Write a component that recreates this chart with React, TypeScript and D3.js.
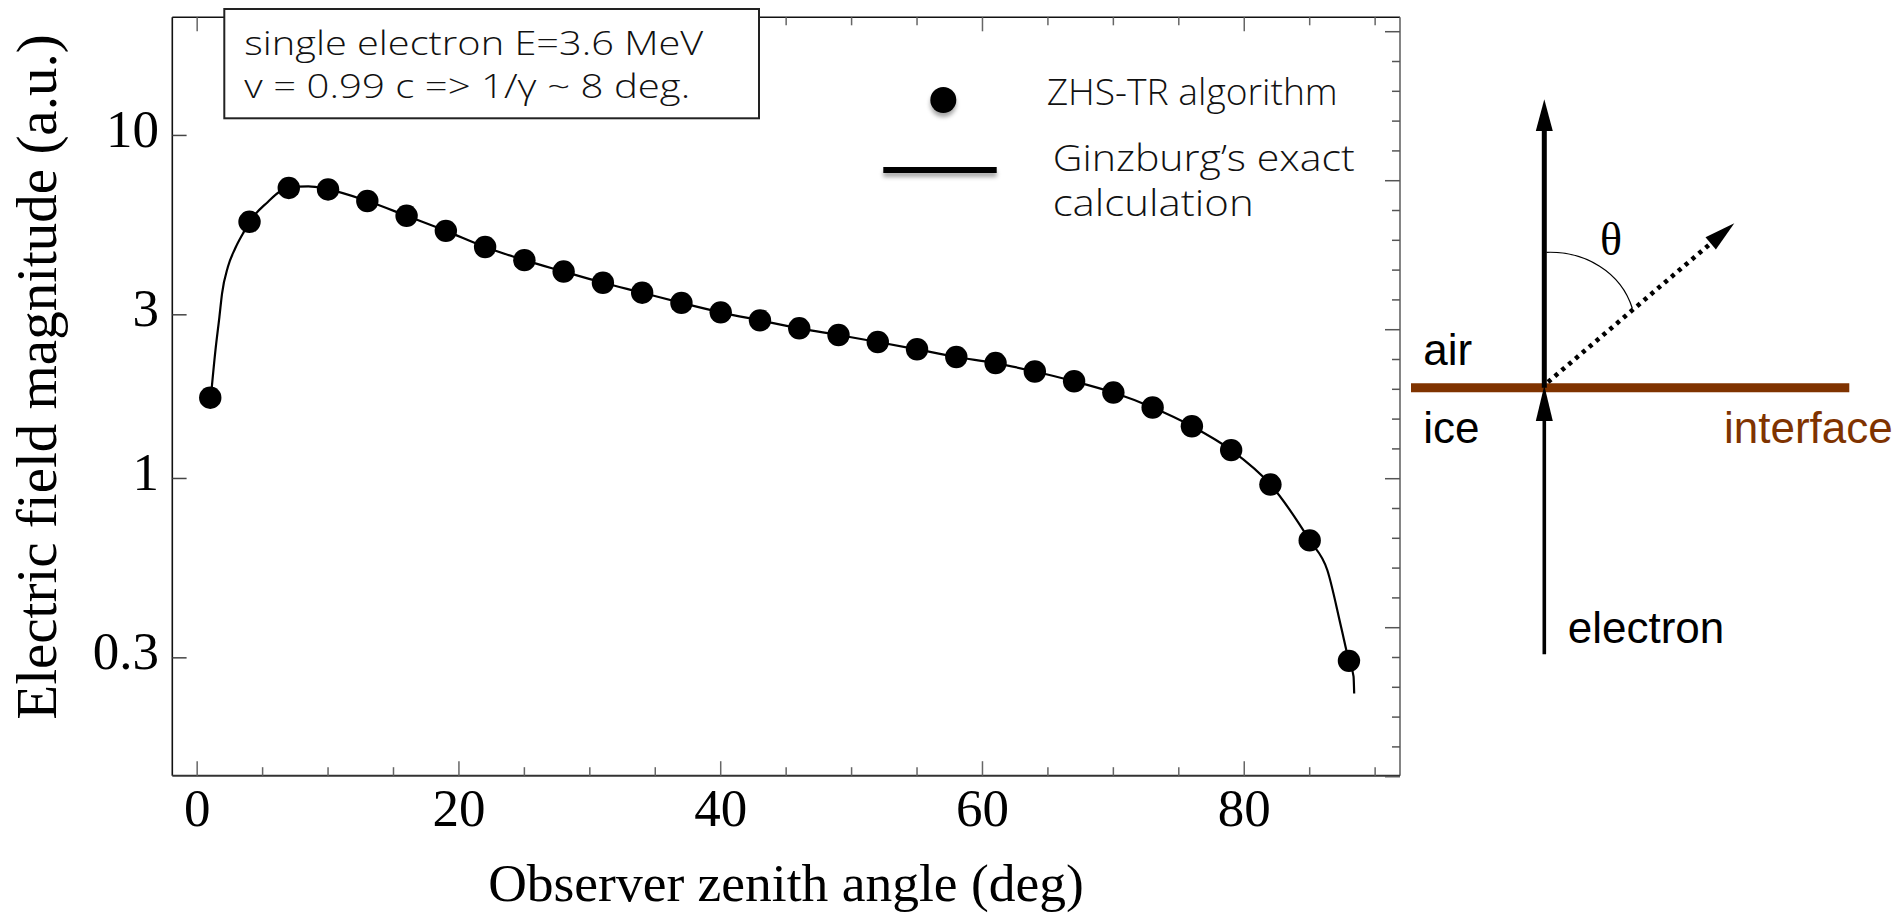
import React from "react";
import * as d3 from "d3";

// ZHS-TR simulation points: observer zenith angle (deg) and field magnitude (a.u.)
const zhsAngles = [1, 4, 7, 10, 13, 16, 19, 22, 25, 28, 31, 34, 37, 40, 43, 46, 49, 52, 55, 58, 61, 64, 67, 70, 73, 76, 79, 82, 85, 88];
const zhsField = [1.72, 5.6, 7.03, 6.96, 6.44, 5.83, 5.27, 4.73, 4.33, 4.01, 3.72, 3.48, 3.25, 3.05, 2.89, 2.74, 2.62, 2.5, 2.38, 2.26, 2.17, 2.05, 1.92, 1.78, 1.61, 1.42, 1.21, 0.96, 0.66, 0.294];

// Ginzburg's exact transition-radiation curve
const ginzburgAngles = [1.0, 1.4, 1.7, 1.9, 2.35, 2.9, 3.5, 4, 5.4, 6.3, 7, 8.5, 10, 13, 16, 19, 22, 25, 28, 31, 34, 37, 40, 43, 46, 49, 52, 55, 58, 61, 64, 67, 70, 73, 76, 79, 82, 85, 86.35, 87.4, 88, 88.35, 88.4];
const ginzburgField = [1.65, 2.37, 2.96, 3.46, 4.14, 4.68, 5.18, 5.6, 6.4, 6.85, 7.03, 7.1, 6.96, 6.44, 5.83, 5.27, 4.73, 4.33, 4.01, 3.72, 3.48, 3.25, 3.05, 2.89, 2.74, 2.62, 2.5, 2.38, 2.26, 2.17, 2.05, 1.92, 1.78, 1.61, 1.42, 1.21, 0.96, 0.66, 0.54, 0.369, 0.294, 0.265, 0.236];

const xTickValues = [0, 20, 40, 60, 80];
const xTickLabels = ["0", "20", "40", "60", "80"];
const yTickValues = [0.3, 1, 3, 10];
const yTickLabels = ["0.3", "1", "3", "10"];

const infoLines = ["single electron E=3.6 MeV", "v = 0.99 c => 1/\u03b3 ~ 8 deg."];
const legendLabels = ["ZHS-TR algorithm", "Ginzburg\u2019s exact", "calculation"];

const SERIF = "'Liberation Serif', 'Times New Roman', serif";
const GEO = "'Open Sans', Lato, sans-serif";
const SANS = "'Liberation Sans', Arial, sans-serif";
const BROWN = "#7f3300";

export default function App() {
  const W = 1897;
  const H = 913;
  const left = 172.3;
  const right = 1400;
  const top = 17.3;
  const bottom = 775.7;

  const x = d3.scaleLinear().domain([-1.9, 91.9]).range([left, right]);
  const y = d3.scaleLog().domain([0.136, 22.1]).range([bottom, top]);
  // right-hand frame carries plain evenly spaced ticks
  const yRight = d3.scaleLinear().domain([0, 25.45]).range([bottom, top]);

  const minorX = d3.range(0, 91, 5);
  const rightTicks = d3.range(0, 26, 1);

  const curve = d3
    .line<number>()
    .x((_, i) => x(ginzburgAngles[i]))
    .y((d) => y(d))
    .curve(d3.curveMonotoneX);

  // diagram geometry
  const vx = 1544.3;
  const ifaceY = 387.7;
  const rayStart = [1548, 382];
  const rayTip = [1734.3, 223.3];
  const rdx = rayTip[0] - rayStart[0];
  const rdy = rayTip[1] - rayStart[1];
  const rlen = Math.hypot(rdx, rdy);
  const ux = rdx / rlen;
  const uy = rdy / rlen;
  const headLen = 31;
  const headHalf = 8;
  const baseX = rayTip[0] - ux * headLen;
  const baseY = rayTip[1] - uy * headLen;

  return (
    <svg
      width={W}
      height={H}
      viewBox={`0 0 ${W} ${H}`}
      style={{ position: "absolute", left: 0, top: 0, background: "#fff" }}
    >
      <defs>
        <filter id="legendShadow" filterUnits="userSpaceOnUse" x="850" y="60" width="200" height="150">
          <feDropShadow dx="0" dy="4" stdDeviation="2.2" floodColor="#000" floodOpacity="0.35" />
        </filter>
        <clipPath id="plotClip">
          <rect x={left} y={top} width={right - left} height={bottom - top} />
        </clipPath>
      </defs>

      {/* frame */}
      <line x1={left} y1={top} x2={right} y2={top} stroke="#111" strokeWidth={1.6} />
      <line x1={left} y1={top} x2={left} y2={bottom} stroke="#111" strokeWidth={1.6} />
      <line x1={right} y1={top} x2={right} y2={bottom} stroke="#666" strokeWidth={1.6} />
      <line x1={left} y1={bottom} x2={right} y2={bottom} stroke="#333" strokeWidth={2} />

      {/* x ticks, bottom and top */}
      {minorX.map((v) => {
        const major = v % 20 === 0;
        const len = major ? 14.5 : 8.5;
        return (
          <g key={`xt${v}`} stroke="#666" strokeWidth={1.5}>
            <line x1={x(v)} x2={x(v)} y1={bottom} y2={bottom - len} />
            <line x1={x(v)} x2={x(v)} y1={top} y2={top + (major ? 14 : 8)} />
          </g>
        );
      })}
      {xTickValues.map((v, i) => (
        <text
          key={`xl${v}`}
          x={x(v)}
          y={826}
          textAnchor="middle"
          fontFamily={SERIF}
          fontSize={53}
          fill="#000"
        >
          {xTickLabels[i]}
        </text>
      ))}

      {/* y ticks, left */}
      {yTickValues.map((v, i) => (
        <g key={`yt${v}`}>
          <line x1={left} x2={left + 14.3} y1={y(v)} y2={y(v)} stroke="#444" strokeWidth={1.5} />
          <text
            x={159}
            y={y(v) + 11.5}
            textAnchor="end"
            fontFamily={SERIF}
            fontSize={53}
            fill="#000"
          >
            {yTickLabels[i]}
          </text>
        </g>
      ))}

      {/* right frame ticks */}
      {rightTicks.map((v) => (
        <line
          key={`rt${v}`}
          x1={right}
          x2={right - (v % 5 === 0 ? 15 : 8)}
          y1={yRight(v) + 1}
          y2={yRight(v) + 1}
          stroke="#555"
          strokeWidth={1.5}
        />
      ))}

      {/* axis titles */}
      <text
        x={786}
        y={901}
        textAnchor="middle"
        fontFamily={SERIF}
        fontSize={53.5}
        fill="#000"
      >
        Observer zenith angle (deg)
      </text>
      <text
        transform="translate(56,377) rotate(-90)"
        textAnchor="middle"
        fontFamily={SERIF}
        fontSize={57}
        fill="#000"
      >
        Electric field magnitude (a.u.)
      </text>

      {/* data */}
      <g clipPath="url(#plotClip)">
        <path d={curve(ginzburgField) || ""} fill="none" stroke="#000" strokeWidth={2.2} />
        {zhsField.map((v, i) => (
          <circle key={`p${i}`} cx={x(zhsAngles[i])} cy={y(v)} r={11.2} fill="#000" />
        ))}
      </g>

      {/* info box */}
      <rect x={224.3} y={9} width={534.7} height={109.3} fill="#fff" stroke="#222" strokeWidth={2} />
      <text
        x={244.3}
        y={55}
        fontFamily={GEO}
        fontWeight={300}
        fontSize={33}
        fill="#111"
        textLength={459}
        lengthAdjust="spacingAndGlyphs"
      >
        {infoLines[0]}
      </text>
      <text
        x={244.3}
        y={98.3}
        fontFamily={GEO}
        fontWeight={300}
        fontSize={33}
        fill="#111"
        textLength={446}
        lengthAdjust="spacingAndGlyphs"
      >
        {infoLines[1]}
      </text>

      {/* legend */}
      <circle cx={943.3} cy={100} r={13} fill="#000" filter="url(#legendShadow)" />
      <rect x={883.3} y={167} width={113.4} height={6} fill="#000" filter="url(#legendShadow)" />
      <text
        x={1046.7}
        y={105}
        fontFamily={GEO}
        fontWeight={300}
        fontSize={37}
        fill="#111"
        textLength={291}
        lengthAdjust="spacingAndGlyphs"
      >
        {legendLabels[0]}
      </text>
      <text
        x={1052.7}
        y={171}
        fontFamily={GEO}
        fontWeight={300}
        fontSize={36}
        fill="#111"
        textLength={302}
        lengthAdjust="spacingAndGlyphs"
      >
        {legendLabels[1]}
      </text>
      <text
        x={1052.7}
        y={215.5}
        fontFamily={GEO}
        fontWeight={300}
        fontSize={36}
        fill="#111"
        textLength={201}
        lengthAdjust="spacingAndGlyphs"
      >
        {legendLabels[2]}
      </text>

      {/* geometry sketch */}
      <line x1={1411} x2={1849.3} y1={ifaceY} y2={ifaceY} stroke={BROWN} strokeWidth={9} />
      <line x1={vx} x2={vx} y1={129} y2={ifaceY} stroke="#000" strokeWidth={5} />
      <polygon points={`${vx},99.3 ${vx - 8.5},131 ${vx + 8.5},131`} fill="#000" />
      <line x1={vx} x2={vx} y1={418} y2={654.3} stroke="#000" strokeWidth={3.6} />
      <polygon points={`${vx},385.5 ${vx - 8.5},421 ${vx + 8.5},421`} fill="#000" />
      <line
        x1={rayStart[0]}
        y1={rayStart[1]}
        x2={baseX}
        y2={baseY}
        stroke="#000"
        strokeWidth={4.6}
        strokeDasharray="4 5"
      />
      <polygon
        points={`${rayTip[0]},${rayTip[1]} ${baseX - uy * headHalf},${baseY + ux * headHalf} ${baseX + uy * headHalf},${baseY - ux * headHalf}`}
        fill="#000"
      />
      <path
        d="M1546.5,252.3 C1585,251 1621,272 1632.3,308.3"
        fill="none"
        stroke="#000"
        strokeWidth={1.2}
      />
      <text x={1611} y={255} textAnchor="middle" fontFamily={SERIF} fontSize={46} fill="#000">
        θ
      </text>
      <text x={1423.3} y={365} fontFamily={SANS} fontSize={44} fill="#000">
        air
      </text>
      <text x={1423.3} y={443.3} fontFamily={SANS} fontSize={44} fill="#000">
        ice
      </text>
      <text x={1724} y={443.3} fontFamily={SANS} fontSize={44} fill={BROWN}>
        interface
      </text>
      <text x={1567.7} y={643.3} fontFamily={SANS} fontSize={44} fill="#000">
        electron
      </text>
    </svg>
  );
}
